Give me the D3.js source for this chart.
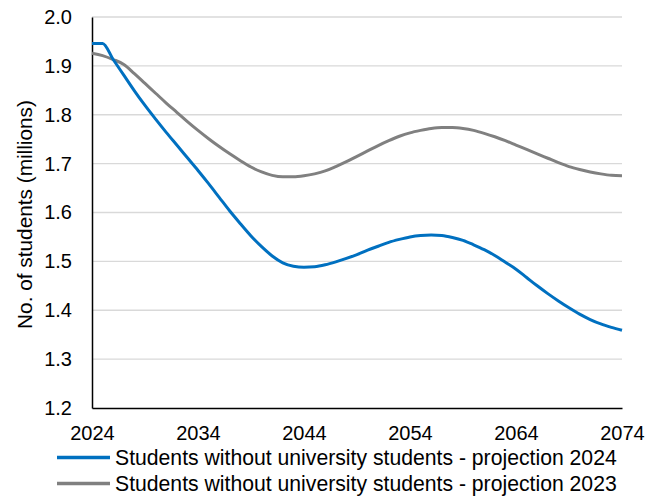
<!DOCTYPE html>
<html>
<head>
<meta charset="utf-8">
<script src="https://cdn.jsdelivr.net/npm/d3@7"></script>
<style>
  html, body { margin: 0; padding: 0; background: #fff; }
  svg { display: block; font-family: "Liberation Sans", Arial, sans-serif; }
</style>
</head>
<body>
<svg id="chart" width="660" height="496"></svg>
<script>
const years = d3.range(2024, 2075);
const proj2024 = [
  1.946, 1.946, 1.913, 1.881, 1.849, 1.819, 1.791, 1.764, 1.738, 1.712,
  1.686, 1.659, 1.631, 1.603, 1.577, 1.552, 1.530, 1.511, 1.497, 1.490,
  1.488, 1.489, 1.493, 1.499, 1.506, 1.514, 1.523, 1.531, 1.539, 1.545,
  1.550, 1.553, 1.554, 1.553, 1.549, 1.543, 1.534, 1.524, 1.512, 1.498,
  1.484, 1.467, 1.450, 1.434, 1.419, 1.405, 1.392, 1.381, 1.372, 1.365,
  1.359
];
const proj2023 = [
  1.926, 1.921, 1.913, 1.903, 1.884, 1.864, 1.844, 1.824, 1.805, 1.786,
  1.768, 1.751, 1.735, 1.720, 1.706, 1.693, 1.683, 1.676, 1.673, 1.673,
  1.675, 1.679, 1.685, 1.694, 1.704, 1.715, 1.726, 1.737, 1.747, 1.756,
  1.763, 1.768, 1.772, 1.774, 1.774, 1.772, 1.768, 1.762, 1.755, 1.747,
  1.738, 1.729, 1.720, 1.711, 1.702, 1.694, 1.688, 1.683, 1.679, 1.676,
  1.675
];
const xTicks = [2024, 2034, 2044, 2054, 2064, 2074];
const yTicks = [1.2, 1.3, 1.4, 1.5, 1.6, 1.7, 1.8, 1.9, 2.0];
const seriesNames = [
  "Students without university students - projection 2024",
  "Students without university students - projection 2023"
];
const seriesColors = ["#0070C0", "#808080"];

const svg = d3.select("#chart");
const mLeft = 92, mRight = 622, mTop = 17, mBottom = 408;
const fontSize = 20;

const x = d3.scaleLinear().domain([2024, 2074]).range([mLeft, mRight]);
const y = d3.scaleLinear().domain([1.2, 2.0]).range([mBottom, mTop]);

// gridlines
svg.append("g")
  .selectAll("line")
  .data(yTicks.filter(d => d > 1.2))
  .join("line")
  .attr("x1", mLeft).attr("x2", mRight)
  .attr("y1", d => y(d)).attr("y2", d => y(d))
  .attr("stroke", "#D9D9D9").attr("stroke-width", 1.3);

// y axis
const yAxis = d3.axisLeft(y).tickValues(yTicks).tickFormat(d3.format(".1f")).tickSize(0).tickPadding(20);
const gy = svg.append("g").attr("transform", `translate(${mLeft},0)`).call(yAxis);
gy.select(".domain").attr("stroke", "#000").attr("stroke-width", 1.5);
gy.selectAll("text").attr("font-size", fontSize).attr("fill", "#000")
  .attr("font-family", "Liberation Sans, Arial, sans-serif");

// x axis
const xAxis = d3.axisBottom(x).tickValues(xTicks).tickFormat(d3.format("d")).tickSize(0).tickPadding(18);
const gx = svg.append("g").attr("transform", `translate(0,${mBottom})`).call(xAxis);
gx.select(".domain").attr("stroke", "#000").attr("stroke-width", 1.5);
gx.selectAll("text").attr("font-size", fontSize).attr("fill", "#000")
  .attr("font-family", "Liberation Sans, Arial, sans-serif");

// lines
const line = d3.line().x((d, i) => x(years[i])).y(d => y(d)).curve(d3.curveMonotoneX);
[proj2023, proj2024].forEach((vals, k) => {
  const idx = k === 0 ? 1 : 0;
  svg.append("path")
    .datum(vals)
    .attr("d", line)
    .attr("fill", "none")
    .attr("stroke", seriesColors[idx])
    .attr("stroke-width", 3)
    .attr("stroke-linejoin", "round");
});

// y label
svg.append("text")
  .attr("transform", `translate(32,${(mTop + mBottom) / 2 + 2}) rotate(-90)`)
  .attr("text-anchor", "middle")
  .attr("font-size", 20.8)
  .attr("fill", "#000")
  .text("No. of students (millions)");

// legend
const legendY = [457.5, 483.5];
seriesNames.forEach((name, i) => {
  svg.append("line")
    .attr("x1", 57).attr("x2", 110)
    .attr("y1", legendY[i]).attr("y2", legendY[i])
    .attr("stroke", seriesColors[i]).attr("stroke-width", 3.5);
  svg.append("text")
    .attr("x", 115).attr("y", legendY[i] + 7)
    .attr("font-size", 21.2)
    .attr("fill", "#000")
    .text(name);
});
</script>
</body>
</html>
